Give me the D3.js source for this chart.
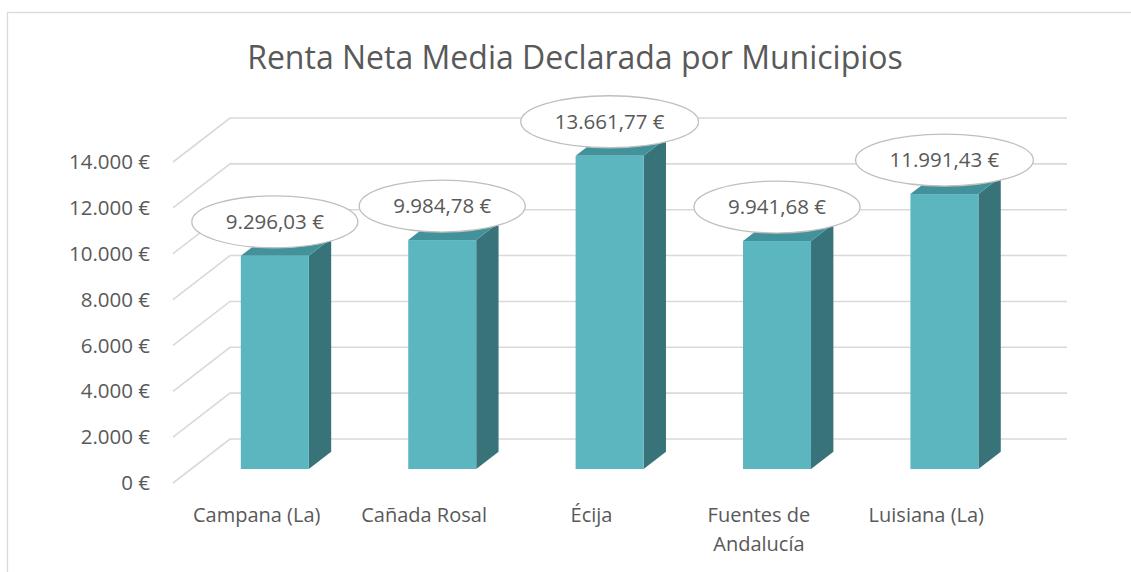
<!DOCTYPE html>
<html>
<head>
<meta charset="utf-8">
<script src="https://cdn.jsdelivr.net/npm/d3@7"></script>
<style>
  html, body { margin: 0; padding: 0; background: #fff; }
  svg { display: block; }
  text { font-family: "Open Sans", "Noto Sans", sans-serif; fill: #595959; }
</style>
</head>
<body>
<svg id="chart" width="1131" height="572"></svg>
<script>
const title = "Renta Neta Media Declarada por Municipios";
const categories = ["Campana (La)", "Cañada Rosal", "Écija", "Fuentes de\nAndalucía", "Luisiana (La)"];
const values = [9296.03, 9984.78, 13661.77, 9941.68, 11991.43];
const valueLabels = ["9.296,03 €", "9.984,78 €", "13.661,77 €", "9.941,68 €", "11.991,43 €"];
const yTicks = [0, 2000, 4000, 6000, 8000, 10000, 12000, 14000];
const yTickLabels = ["0 €", "2.000 €", "4.000 €", "6.000 €", "8.000 €", "10.000 €", "12.000 €", "14.000 €"];

const svg = d3.select("#chart");

// chart border
svg.append("rect").attr("x", 7.5).attr("y", 12.5).attr("width", 1200).attr("height", 700)
  .attr("fill", "#fff").attr("stroke", "#d9d9d9").attr("stroke-width", 1.3);

// title
svg.append("text").attr("x", 575).attr("y", 58).attr("dy", "0.35em").attr("text-anchor", "middle")
  .style("font-size", "32px").text(title);

// geometry: front plane and full depth offset
const depthDX = 57, depthDY = -44;
const x = d3.scaleBand().domain(categories).range([173, 1010]).padding(0);
const y = d3.scaleLinear().domain([0, 14000]).range([483, 162]);
const backRight = 1067;

// gridlines (floor diagonal + back wall)
const grid = svg.append("g");
yTicks.forEach(t => {
  const yf = y(t);
  grid.append("path")
    .attr("d", `M${x.range()[0]},${yf} L${x.range()[0] + depthDX},${yf + depthDY} L${backRight},${yf + depthDY}`)
    .attr("fill", "none").attr("stroke", "#d9d9d9").attr("stroke-width", 1.6);
});

// y axis labels
svg.append("g").selectAll("text").data(yTicks).join("text")
  .attr("x", 150).attr("y", d => y(d)).attr("dy", "0.35em").attr("text-anchor", "end")
  .style("font-size", "20.5px")
  .text((d, i) => yTickLabels[i]);

// bars (3D)
const f1 = 0.318, f2 = 0.71;
const barW = 68;
const bars = svg.append("g");
categories.forEach((c, i) => {
  const cx = x(c) + x.bandwidth() / 2 + f1 * depthDX;
  const x0 = cx - barW / 2, x1 = cx + barW / 2;
  const yb = y(0) + f1 * depthDY, yt = y(values[i]) + f1 * depthDY;
  const ddx = (f2 - f1) * depthDX, ddy = (f2 - f1) * depthDY;
  bars.append("path").attr("d", `M${x1},${yb} L${x1 + ddx},${yb + ddy} L${x1 + ddx},${yt + ddy} L${x1},${yt} Z`)
    .attr("fill", "#38737A");
  bars.append("path").attr("d", `M${x0},${yt} L${x0 + ddx},${yt + ddy} L${x1 + ddx},${yt + ddy} L${x1},${yt} Z`)
    .attr("fill", "#42929B");
  bars.append("rect").attr("x", x0).attr("y", yt).attr("width", barW).attr("height", yb - yt)
    .attr("fill", "#5BB6C0");
});

// data labels with ellipse callouts
const lbl = svg.append("g");
categories.forEach((c, i) => {
  const cx = x(c) + x.bandwidth() / 2 + f1 * depthDX;
  const cy = y(values[i]) + f1 * depthDY - 34;
  const g = lbl.append("g");
  const el = g.append("ellipse").attr("cx", cx).attr("cy", cy).attr("ry", 26)
    .attr("fill", "#fff").attr("stroke", "#bfbfbf").attr("stroke-width", 1.3);
  const t = g.append("text").attr("x", cx).attr("y", cy).attr("dy", "0.35em").attr("text-anchor", "middle")
    .style("font-size", "20.5px").text(valueLabels[i]);
  const w = t.node().getComputedTextLength();
  el.attr("rx", w / 2 + 34);
});

// category labels
svg.append("g").selectAll("text").data(categories).join("text")
  .attr("y", 515).attr("text-anchor", "middle")
  .style("font-size", "20px")
  .each(function(d) {
    const lines = d.split("\n");
    d3.select(this).selectAll("tspan").data(lines).join("tspan")
      .attr("x", x(d) + x.bandwidth() / 2)
      .attr("dy", (l, j) => j === 0 ? "0.35em" : "1.45em")
      .text(l => l);
  });
</script>
</body>
</html>
